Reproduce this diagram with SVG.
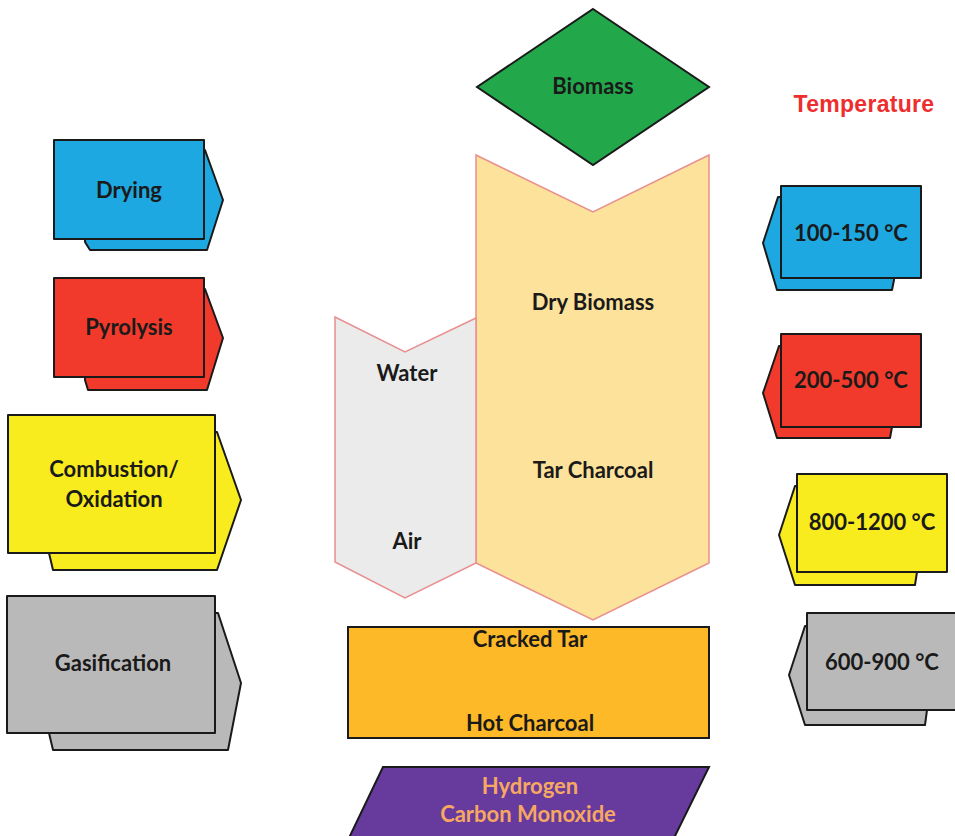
<svg xmlns="http://www.w3.org/2000/svg" width="955" height="836" viewBox="0 0 955 836">
  <style>
    .lbl { font-family: Lato, "Open Sans", "Liberation Sans", sans-serif; font-weight: bold; font-size: 22px; fill: #1a1a1a; text-anchor: middle; }
    .box { stroke: #1a1a1a; stroke-width: 2; stroke-linejoin: round; }
    .blue { fill: #1ea8e1; }
    .red { fill: #f13a2b; }
    .yel { fill: #f9ec1e; }
    .gry { fill: #b9b9b9; }
    .flow { stroke: #e98f8f; stroke-width: 1.5; stroke-linejoin: miter; }
    .gas { fill: #f6a862; }
    .title { font-family: "Liberation Sans", Arial, sans-serif; font-weight: bold; font-size: 23px; letter-spacing: 0.3px; fill: #ee2e2e; text-anchor: middle; }
  </style>
  <rect width="955" height="836" fill="#ffffff"/>

  <!-- Biomass feed -->
  <g id="biomass">
    <polygon points="593,9 709,87 593,165 477,87" fill="#22a84b" stroke="#1a1a1a" stroke-width="2"/>
    <text class="lbl" x="593" y="94">Biomass</text>
  </g>

  <text class="title" x="864" y="112">Temperature</text>

  <!-- Gasifier column -->
  <g id="main-column">
    <polygon class="flow" points="476,155 593,212 709,155 709,563 593,620 476,563" fill="#fde29b"/>
    <text class="lbl" x="593" y="310">Dry Biomass</text>
    <text class="lbl" x="593" y="478">Tar Charcoal</text>
  </g>
  <g id="side-column">
    <polygon class="flow" points="335,317 405,352 476,318 476,563 405,598 335,562" fill="#ebebeb"/>
    <text class="lbl" x="407" y="381">Water</text>
    <text class="lbl" x="407" y="549">Air</text>
  </g>

  <!-- Reduction zone -->
  <g id="reduction">
    <rect x="348" y="627" width="361" height="111" fill="#fdb927" stroke="#1a1a1a" stroke-width="2"/>
    <text class="lbl" x="530" y="647">Cracked Tar</text>
    <text class="lbl" x="530" y="731">Hot Charcoal</text>
  </g>

  <!-- Product gas -->
  <g id="product">
    <polygon points="383,767 709,767 673,840 348,840" fill="#673a9e" stroke="#1a1a1a" stroke-width="2"/>
    <text class="lbl gas" x="530" y="794">Hydrogen</text>
    <text class="lbl gas" x="528" y="822">Carbon Monoxide</text>
  </g>

  <!-- Process stages -->
  <g id="drying">
    <polygon class="box blue" points="85,150 205,150 223,200 207,250 90,250 85,242"/>
    <rect class="box blue" x="54" y="140" width="150" height="99"/>
    <text class="lbl" x="129" y="198">Drying</text>
  </g>
  <g id="pyrolysis">
    <polygon class="box red" points="85,289 205,289 223,338 207,390 88,390 85,380"/>
    <rect class="box red" x="54" y="278" width="150" height="99"/>
    <text class="lbl" x="129" y="335">Pyrolysis</text>
  </g>
  <g id="combustion">
    <polygon class="box yel" points="49,432 217,432 241,500 217,570 53,570 49,553"/>
    <rect class="box yel" x="8" y="415" width="207" height="138"/>
    <text class="lbl" x="114" y="477">Combustion/</text>
    <text class="lbl" x="114" y="507">Oxidation</text>
  </g>
  <g id="gasification">
    <polygon class="box gry" points="49,613 218,613 241,683 228,750 53,750 49,733"/>
    <rect class="box gry" x="7" y="596" width="208" height="137"/>
    <text class="lbl" x="113" y="671">Gasification</text>
  </g>

  <!-- Temperature ranges -->
  <g id="t-drying">
    <polygon class="box blue" points="778,197 894,197 894,280 892,290 777,290 763,243"/>
    <rect class="box blue" x="781" y="186" width="140" height="92"/>
    <text class="lbl" x="851" y="241">100-150 °C</text>
  </g>
  <g id="t-pyrolysis">
    <polygon class="box red" points="779,346 892,346 892,427 890,438 777,438 763,393"/>
    <rect class="box red" x="781" y="334" width="140" height="93"/>
    <text class="lbl" x="851" y="388">200-500 °C</text>
  </g>
  <g id="t-combustion">
    <polygon class="box yel" points="795,486 917,486 917,572 915,585 795,585 779,535"/>
    <rect class="box yel" x="797" y="474" width="150" height="98"/>
    <text class="lbl" x="872" y="530">800-1200 °C</text>
  </g>
  <g id="t-gasification">
    <polygon class="box gry" points="805,626 927,626 927,710 925,725 805,725 789,675"/>
    <rect class="box gry" x="807" y="613" width="160" height="97"/>
    <text class="lbl" x="882" y="670">600-900 °C</text>
  </g>

  <!-- no connectors between stages -->
  <g id="connectors"/>
</svg>
